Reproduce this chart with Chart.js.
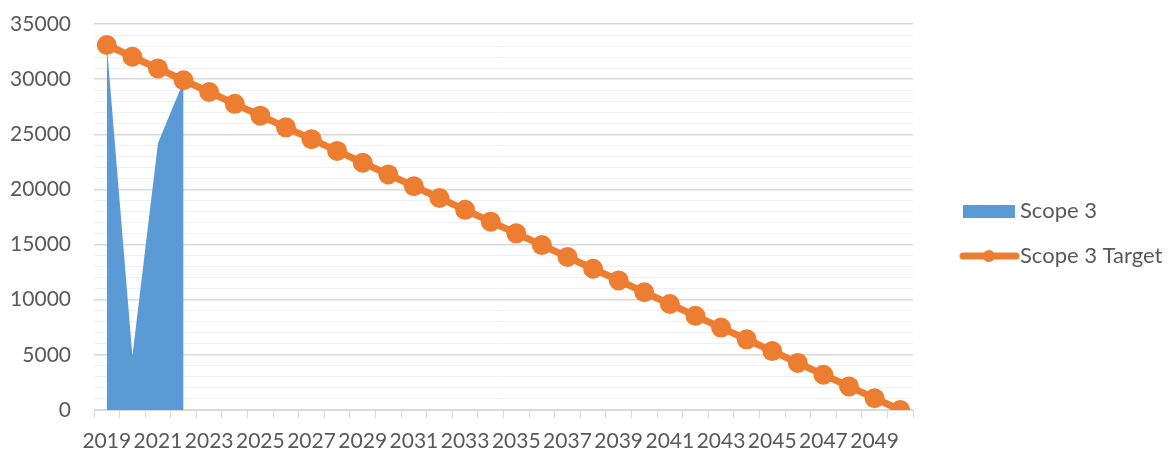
<!DOCTYPE html>
<html>
<head>
<meta charset="utf-8">
<script src="https://cdn.jsdelivr.net/npm/chart.js@4"></script>
<style>
  html, body { margin: 0; padding: 0; background: #fff; }
  #wrap { width: 1173px; height: 453px; position: relative; }
</style>
</head>
<body>
<div id="wrap"><canvas id="chart"></canvas></div>
<script>
// Jahre 2019-2050
const years = ['2019','2020','2021','2022','2023','2024','2025','2026','2027','2028',
  '2029','2030','2031','2032','2033','2034','2035','2036','2037','2038','2039','2040',
  '2041','2042','2043','2044','2045','2046','2047','2048','2049','2050'];

// Ist-Werte Scope 3 (nur 2019-2022)
const scope3 = [33100, 4900, 24200, 29800];

// Zielpfad Scope 3
const scope3Target = [33100, 32030, 30970, 29900, 28830, 27760, 26690, 25630, 24560, 23490,
  22420, 21360, 20290, 19220, 18150, 17080, 16020, 14950, 13880, 12810, 11750, 10680,
  9610, 8540, 7470, 6410, 5340, 4270, 3200, 2140, 1070, 0];

const yMax = 35000;
const yMajor = 5000;

const BLUE = '#5b9bd5';
const ORANGE = '#ed7d31';
const TEXT = '#595959';
const FONT = 'Lato, "Noto Sans", sans-serif';

// Legende rechts, selbst gezeichnet
const legendPlugin = {
  id: 'sideLegend',
  afterDraw(chart) {
    const ctx = chart.ctx;
    const ds = chart.data.datasets;
    ctx.save();
    ctx.font = '22px ' + FONT;
    ctx.textBaseline = 'middle';
    // Scope 3 - Flaeche
    ctx.fillStyle = ds[1].backgroundColor;
    ctx.fillRect(963, 205, 52, 13);
    ctx.fillStyle = TEXT;
    ctx.fillText(ds[1].label, 1020, 211);
    // Scope 3 Target - Linie mit Punkt
    ctx.strokeStyle = ds[0].borderColor;
    ctx.lineWidth = 7;
    ctx.lineCap = 'round';
    ctx.beginPath();
    ctx.moveTo(963, 256);
    ctx.lineTo(1016, 256);
    ctx.stroke();
    ctx.fillStyle = ds[0].pointBackgroundColor;
    ctx.beginPath();
    ctx.arc(989, 256, 6, 0, Math.PI * 2);
    ctx.fill();
    ctx.fillStyle = TEXT;
    ctx.fillText(ds[0].label, 1020, 256);
    ctx.restore();
  }
};

new Chart(document.getElementById('chart'), {
  type: 'line',
  data: {
    labels: years,
    datasets: [
      {
        label: 'Scope 3 Target',
        data: scope3Target,
        borderColor: ORANGE,
        backgroundColor: ORANGE,
        pointBackgroundColor: ORANGE,
        pointBorderColor: ORANGE,
        borderWidth: 7,
        pointRadius: 10,
        pointBorderWidth: 0,
        pointHoverRadius: 10,
        tension: 0,
        fill: false,
        order: 0
      },
      {
        label: 'Scope 3',
        data: scope3,
        borderColor: BLUE,
        backgroundColor: BLUE,
        borderWidth: 0,
        pointRadius: 0,
        tension: 0,
        fill: 'origin',
        order: 1
      }
    ]
  },
  options: {
    responsive: true,
    maintainAspectRatio: false,
    animation: false,
    layout: { padding: { top: 24, right: 260, left: 0, bottom: 0 } },
    plugins: {
      legend: { display: false },
      tooltip: { enabled: false }
    },
    scales: {
      x: {
        type: 'category',
        offset: true,
        grid: {
          display: true,
          offset: true,
          drawOnChartArea: false,
          drawTicks: true,
          tickLength: 8,
          color: '#d9d9d9'
        },
        border: { display: true, color: '#d9d9d9' },
        ticks: {
          autoSkip: false,
          maxRotation: 0,
          minRotation: 0,
          padding: 11,
          color: TEXT,
          font: { family: FONT, size: 21 },
          callback: function (value, index) {
            return index % 2 === 0 ? this.getLabelForValue(value) : '';
          }
        },
        afterFit: function (scale) {
          scale.height = 43;
          scale.paddingLeft = 0;
          scale.paddingRight = 0;
        }
      },
      y: {
        min: 0,
        max: yMax,
        grid: {
          drawTicks: false,
          color: (c) => (c.tick && c.tick.value % yMajor === 0) ? '#d9d9d9' : '#f0f0f0',
          lineWidth: (c) => (c.tick && c.tick.value % yMajor === 0) ? 1.5 : 1
        },
        border: { display: false },
        ticks: {
          stepSize: 1000,
          autoSkip: false,
          padding: 23,
          color: TEXT,
          font: { family: FONT, size: 21 },
          callback: (v) => (v % yMajor === 0 ? String(v) : '')
        },
        afterFit: function (scale) {
          scale.width = 94;
          scale.paddingTop = 0;
          scale.paddingBottom = 0;
        }
      }
    }
  },
  plugins: [legendPlugin]
});
</script>
</body>
</html>
